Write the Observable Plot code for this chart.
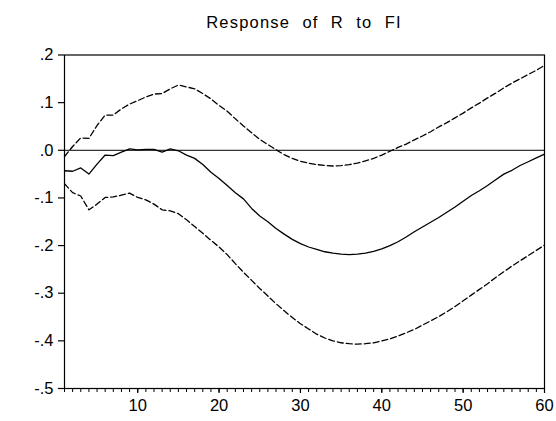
<!DOCTYPE html>
<html>
<head>
<meta charset="utf-8">
<script src="https://cdn.jsdelivr.net/npm/d3@7"></script>
<script src="https://cdn.jsdelivr.net/npm/@observablehq/plot@0.6"></script>
<style>
  html, body { margin: 0; padding: 0; background: #fff; }
  #title {
    box-sizing: border-box; width: 556px; height: 36px;
    padding: 12px 12px 0 64px; text-align: center;
    font-family: "Liberation Sans", Arial, sans-serif; font-size: 16.5px;
    line-height: 20px; letter-spacing: 1.2px; word-spacing: 6.5px; color: #000;
  }
  svg { display: block; }
</style>
</head>
<body>
<div id="title">Response of R to FI</div>
<div id="chart"></div>
<script>
const titleText = "Response of R to FI";
const periods = d3.range(1, 61);
const response = [
  -0.043, -0.044, -0.037, -0.050, -0.029, -0.010, -0.011, -0.004, 0.003, 0.001,
  0.002, 0.002, -0.004, 0.003, -0.001, -0.010, -0.017, -0.030, -0.046, -0.059,
  -0.074, -0.089, -0.102, -0.122, -0.138, -0.150, -0.164, -0.176, -0.187, -0.196,
  -0.203, -0.208, -0.213, -0.216, -0.218, -0.219, -0.218, -0.216, -0.212, -0.207,
  -0.200, -0.192, -0.182, -0.171, -0.161, -0.151, -0.141, -0.130, -0.119, -0.107,
  -0.095, -0.085, -0.074, -0.062, -0.050, -0.042, -0.032, -0.024, -0.016, -0.008
];
const upperBand = [
  -0.013, 0.008, 0.026, 0.025, 0.052, 0.074, 0.074, 0.087, 0.097, 0.104,
  0.112, 0.118, 0.119, 0.129, 0.137, 0.133, 0.129, 0.119, 0.108, 0.094,
  0.082, 0.066, 0.051, 0.037, 0.023, 0.012, 0.001, -0.009, -0.017, -0.023,
  -0.027, -0.030, -0.032, -0.033, -0.032, -0.030, -0.027, -0.022, -0.017, -0.010,
  -0.002, 0.006, 0.013, 0.022, 0.030, 0.039, 0.049, 0.058, 0.068, 0.078,
  0.089, 0.099, 0.110, 0.120, 0.131, 0.141, 0.150, 0.159, 0.168, 0.178
];
const lowerBand = [
  -0.070, -0.089, -0.096, -0.125, -0.113, -0.099, -0.098, -0.094, -0.090, -0.099,
  -0.104, -0.113, -0.125, -0.127, -0.133, -0.146, -0.160, -0.174, -0.189, -0.203,
  -0.219, -0.238, -0.256, -0.273, -0.290, -0.306, -0.322, -0.337, -0.351, -0.364,
  -0.375, -0.386, -0.394, -0.400, -0.404, -0.406, -0.407, -0.406, -0.404, -0.400,
  -0.396, -0.390, -0.383, -0.376, -0.367, -0.358, -0.349, -0.339, -0.328, -0.316,
  -0.304, -0.292, -0.280, -0.267, -0.255, -0.243, -0.232, -0.221, -0.210, -0.199
];
const yTicks = [0.2, 0.1, 0, -0.1, -0.2, -0.3, -0.4, -0.5];
const yTickLabels = [".2", ".1", ".0", "-.1", "-.2", "-.3", "-.4", "-.5"];
const xTicks = [10, 20, 30, 40, 50, 60];

document.getElementById("title").textContent = titleText;

const rows = periods.map((p, i) => ({p, mid: response[i], hi: upperBand[i], lo: lowerBand[i]}));
const yLabel = v => {
  const i = yTicks.findIndex(t => Math.abs(t - v) < 1e-9);
  return i >= 0 ? yTickLabels[i] : "";
};

const chart = Plot.plot({
  width: 556,
  height: 385,
  marginTop: 18.5,
  marginBottom: 33,
  marginLeft: 64,
  marginRight: 12,
  style: {fontFamily: "'Liberation Sans', Arial, sans-serif", fontSize: "16.5px", color: "#000", background: "#fff", overflow: "visible"},
  x: {domain: [1, 60]},
  y: {domain: [-0.5, 0.2]},
  marks: [
    Plot.ruleY([0], {stroke: "#000", strokeWidth: 1}),
    Plot.line(rows, {x: "p", y: "hi", stroke: "#000", strokeWidth: 1.3, strokeDasharray: "6,3"}),
    Plot.line(rows, {x: "p", y: "lo", stroke: "#000", strokeWidth: 1.3, strokeDasharray: "6,3"}),
    Plot.line(rows, {x: "p", y: "mid", stroke: "#000", strokeWidth: 1.3}),
    Plot.frame({stroke: "#000", strokeWidth: 1.2}),
    Plot.axisY(yTicks, {tickSize: 6, tickPadding: 5, tickFormat: yLabel, stroke: "#000", strokeWidth: 1.2, fill: "#000", fontSize: 16.5, label: null}),
    Plot.axisX(periods, {tickSize: 4, text: null, stroke: "#000", strokeWidth: 1, label: null}),
    Plot.axisX(xTicks, {tickSize: 5, tickPadding: 6, tickFormat: d => String(d), stroke: "#000", strokeWidth: 1.2, fill: "#000", fontSize: 16.5, label: null})
  ]
});
document.getElementById("chart").appendChild(chart);
</script>
</body>
</html>
